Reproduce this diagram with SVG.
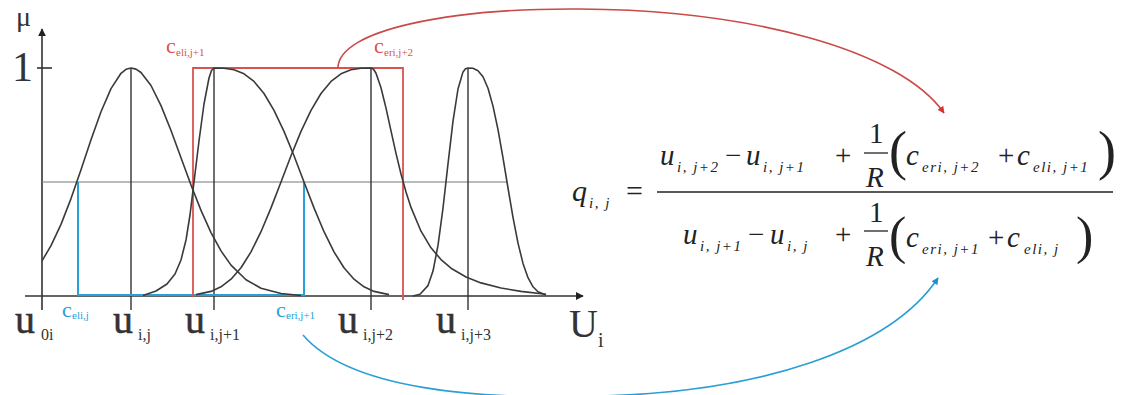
<svg xmlns="http://www.w3.org/2000/svg" width="1126" height="395" viewBox="0 0 1126 395">
<style>
.ax{stroke:#333;stroke-width:1.6;fill:none}
.vl{stroke:#333;stroke-width:1.4;fill:none}
.cv{stroke:#3a3a3a;stroke-width:1.6;fill:none;stroke-linejoin:round}
.rd{stroke:#d9534f;stroke-width:1.8;fill:none}
.bl{stroke:#2aa0d8;stroke-width:2;fill:none}
text{font-family:'Liberation Serif','Times New Roman','DejaVu Serif',serif}
.lb{fill:#333}
.ul{fill:#333;stroke:#333;stroke-width:0.5}
.rl{fill:#d9534f}
.bll{fill:#2aa0d8}
.mt{fill:#222}
.it{font-style:italic}
.sb{font-size:15px;letter-spacing:1.5px}
</style>
<defs>
<marker id="ah" viewBox="0 0 10 10" refX="9" refY="5" markerWidth="8" markerHeight="8" markerUnits="userSpaceOnUse" orient="auto"><path d="M0,0 L10,5 L0,10 z" fill="#222"/></marker>
<marker id="ahr" viewBox="0 0 10 10" refX="9" refY="5" markerWidth="7" markerHeight="7" markerUnits="userSpaceOnUse" orient="auto"><path d="M0,0 L10,5 L0,10 z" fill="#d9302f"/></marker>
<marker id="ahb" viewBox="0 0 10 10" refX="9" refY="5" markerWidth="7" markerHeight="7" markerUnits="userSpaceOnUse" orient="auto"><path d="M0,0 L10,5 L0,10 z" fill="#1f8fc8"/></marker>
</defs>
<rect width="1126" height="395" fill="#fff"/>

<g id="axes" font-family="Liberation Serif, Times New Roman, serif">
<line class="ax" x1="42" y1="310" x2="42" y2="29" marker-end="url(#ah)"/>
<line class="ax" x1="25" y1="296" x2="583" y2="296" marker-end="url(#ah)"/>
<line class="ax" x1="37" y1="68" x2="52" y2="68"/>
<line x1="42" y1="182" x2="507" y2="182" stroke="#777" stroke-width="1"/>
<line class="vl" x1="131" y1="68" x2="131" y2="310"/>
<line class="vl" x1="214" y1="68" x2="214" y2="310"/>
<line class="vl" x1="371" y1="68" x2="371" y2="310"/>
<line class="vl" x1="468" y1="68" x2="468" y2="310"/>
<text class="lb" x="16" y="26" font-size="28">μ</text>
<text class="lb" x="12" y="81" font-size="42">1</text>
<text class="lb" x="569" y="337" font-size="40">U<tspan x="598" y="347" font-size="20">i</tspan></text>
</g>

<g id="blue-box">
<path class="bl" d="M78,182 L78,295 L304,295 L304,182"/>
</g>
<g id="red-box">
<path class="rd" d="M193,297 L193,68 L403,68 L403,300"/>
</g>

<g id="curve-j">
<path class="cv" d="M42,260.9 L51,245.7 L61,224.4 L71,198.6 L81,169.7 L91,139.8 L101,111.7 L111,88.6 L121,73.3 L126,69.3 L131,68 L136,69.1 L141,72.5 L151,85.5 L161,105.6 L171,130.5 L181,157.7 L191,185 L201,210.4 L211,232.6 L221,250.9 L231,265.1 L246,279.8 L261,288.2 L281,293.5 L301,295.5"/>
</g>
<g id="curve-j1">
<path class="cv" d="M143,295.5 L156,291 L167,284 L175,274 L181,260 L186,240 L190,215 L194,182 L199,141 L204,104 L209,78 L211.5,70.5 L214,68 L224,68.2 L234,69.7 L244,73.8 L254,81.4 L264,93.5 L274,110.4 L284,131.4 L294,155.8 L304,182 L314,207.9 L324,231.7 L334,251.9 L344,267.8 L354,279.2 L364,286.8 L374,291.4 L389,294.6"/>
</g>
<g id="curve-j2">
<path class="cv" d="M196,294.6 L211,291.4 L221,286.8 L231,279.2 L241,267.8 L251,251.9 L261,231.7 L271,207.9 L281,182 L291,155.8 L301,131.4 L311,110.4 L321,93.5 L331,81.4 L341,73.8 L351,69.7 L361,68.2 L371,68 L373.5,69.3 L376,73.2 L381,87.7 L386,108.1 L391,130.9 L396,153.4 L401,174 L406,192 L411,207.4 L421,231.2 L431,247.8 L441,259.6 L451,268.2 L466,277 L481,282.9 L501,288 L521,291.4 L546,294.2"/>
</g>
<g id="curve-j3">
<path class="cv" d="M413,296 L420,294.2 L428,285.6 L433,271.1 L438,245.4 L443,208.2 L448,163.9 L453,121.2 L458,89 L463,71.9 L465.5,68.7 L468,68 L473,68.3 L478,70.7 L483,76.8 L488,88.3 L493,106.1 L498,129.7 L503,157.8 L508,188 L513,217.4 L518,243.1 L523,263.4 L528,277.7 L533,286.8 L538,291.8 L546,295.1"/>
</g>

<g id="axis-labels" font-family="Liberation Serif, Times New Roman, serif">
<text class="ul" x="15" y="333" font-size="40">u<tspan x="41" y="340" font-size="16" stroke-width="0">0i</tspan></text>
<text class="ul" x="113" y="333" font-size="40">u<tspan x="138" y="340" font-size="16" stroke-width="0">i,j</tspan></text>
<text class="ul" x="185" y="333" font-size="40">u<tspan x="210" y="340" font-size="16" stroke-width="0">i,j+1</tspan></text>
<text class="ul" x="338" y="333" font-size="40">u<tspan x="363" y="340" font-size="16" stroke-width="0">i,j+2</tspan></text>
<text class="ul" x="436" y="333" font-size="40">u<tspan x="461" y="340" font-size="16" stroke-width="0">i,j+3</tspan></text>
<text class="bll" x="62" y="317" font-size="22">c<tspan x="72" y="319" font-size="11">eli,j</tspan></text>
<text class="bll" x="276" y="317" font-size="22">c<tspan x="286" y="319" font-size="11">eri,j+1</tspan></text>
<text class="rl" x="166" y="53" font-size="22">c<tspan x="176" y="56" font-size="11">eli,j+1</tspan></text>
<text class="rl" x="374" y="53" font-size="22">c<tspan x="384" y="56" font-size="11">eri,j+2</tspan></text>
</g>

<g id="formula" font-family="Liberation Serif, Times New Roman, serif">
<text class="mt it" x="572" y="201" font-size="30">q<tspan class="sb" x="589" y="208">i, j</tspan></text>
<text class="mt" x="626" y="201" font-size="30">=</text>
<line x1="657" y1="192" x2="1113" y2="192" stroke="#222" stroke-width="1.6"/>
<text class="mt it" x="660" y="165" font-size="29">u<tspan class="sb" x="677" y="172">i, j+2</tspan></text>
<text class="mt" x="725" y="165" font-size="29">−</text>
<text class="mt it" x="746" y="165" font-size="29">u<tspan class="sb" x="763" y="172">i, j+1</tspan></text>
<text class="mt" x="835" y="165" font-size="29">+</text>
<text class="mt" x="869" y="143" font-size="29">1</text>
<line x1="864" y1="153" x2="888" y2="153" stroke="#222" stroke-width="1.3"/>
<text class="mt it" x="866" y="187" font-size="29">R</text>
<text class="mt" x="889" y="169" font-size="54">(</text>
<text class="mt it" x="906" y="165" font-size="29">c<tspan class="sb" x="922" y="172">eri, j+2</tspan></text>
<text class="mt" x="998" y="165" font-size="29">+</text>
<text class="mt it" x="1017" y="165" font-size="29">c<tspan class="sb" x="1033" y="172">eli, j+1</tspan></text>
<text class="mt" x="1098" y="169" font-size="54">)</text>

<text class="mt it" x="683" y="244" font-size="29">u<tspan class="sb" x="700" y="251">i, j+1</tspan></text>
<text class="mt" x="748" y="244" font-size="29">−</text>
<text class="mt it" x="770" y="244" font-size="29">u<tspan class="sb" x="787" y="251">i, j</tspan></text>
<text class="mt" x="835" y="244" font-size="29">+</text>
<text class="mt" x="869" y="222" font-size="29">1</text>
<line x1="864" y1="231" x2="888" y2="231" stroke="#222" stroke-width="1.3"/>
<text class="mt it" x="866" y="266" font-size="29">R</text>
<text class="mt" x="889" y="253" font-size="52">(</text>
<text class="mt it" x="906" y="247" font-size="29">c<tspan class="sb" x="922" y="254">eri, j+1</tspan></text>
<text class="mt" x="988" y="247" font-size="29">+</text>
<text class="mt it" x="1007" y="247" font-size="29">c<tspan class="sb" x="1024" y="254">eli, j</tspan></text>
<text class="mt" x="1076" y="253" font-size="52">)</text>
</g>

<g id="connectors">
<path d="M338,68 C338,30 450,8 580,9 C750,10 900,50 944,113" fill="none" stroke="#c94a46" stroke-width="1.6" marker-end="url(#ahr)"/>
<path d="M303,335 C350,390 480,400 600,396 C760,392 890,350 938,278" fill="none" stroke="#2a9fd6" stroke-width="1.6" marker-end="url(#ahb)"/>
</g>
</svg>
